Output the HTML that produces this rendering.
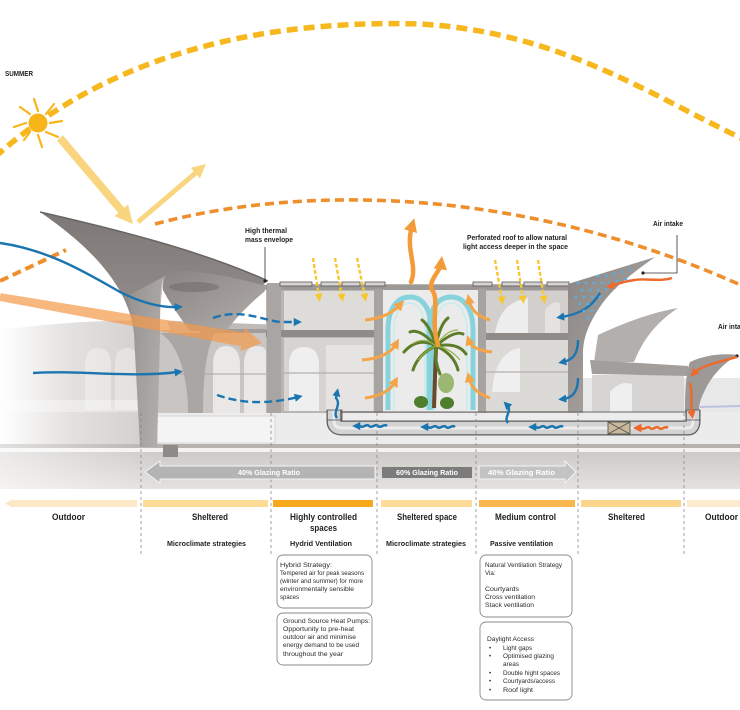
<!DOCTYPE html>
<html><head><meta charset="utf-8">
<style>
html,body{margin:0;padding:0;background:#fff;}
svg{display:block;font-family:"Liberation Sans",Arial,sans-serif;}
</style></head><body>
<svg width="740" height="710" viewBox="0 0 740 710" xmlns="http://www.w3.org/2000/svg">
<defs>
 <linearGradient id="fadeL" gradientUnits="userSpaceOnUse" x1="0" y1="0" x2="230" y2="0">
  <stop offset="0" stop-color="#ffffff"/><stop offset="0.3" stop-color="#e4e2e0"/><stop offset="1" stop-color="#bfbbb8"/>
 </linearGradient>
 <linearGradient id="band" x1="0" y1="0" x2="0" y2="1">
  <stop offset="0" stop-color="#cdcac7"/><stop offset="1" stop-color="#e4e2e0"/>
 </linearGradient>
 <linearGradient id="bandFade" gradientUnits="userSpaceOnUse" x1="0" y1="0" x2="160" y2="0">
  <stop offset="0" stop-color="#ffffff" stop-opacity="0.6"/><stop offset="1" stop-color="#ffffff" stop-opacity="0"/>
 </linearGradient>
 <linearGradient id="fun" x1="0" y1="0" x2="0" y2="1">
  <stop offset="0" stop-color="#7d7875"/><stop offset="1" stop-color="#aeaaa7"/>
 </linearGradient>
 <linearGradient id="fun2" x1="0" y1="0" x2="1" y2="1">
  <stop offset="0" stop-color="#8a8582"/><stop offset="1" stop-color="#b2aeab"/>
 </linearGradient>
 <linearGradient id="stem" x1="0" y1="0" x2="1" y2="0">
  <stop offset="0" stop-color="#9a9693"/><stop offset="1" stop-color="#b9b5b2"/>
 </linearGradient>
 <marker id="mb" viewBox="0 0 10 10" refX="4" refY="5" markerWidth="3.4" markerHeight="3.4" orient="auto"><path d="M0,0 L10,5 L0,10 Z" fill="#1b75b1"/></marker>
 <marker id="mo" viewBox="0 0 10 10" refX="4" refY="5" markerWidth="3.4" markerHeight="3.4" orient="auto"><path d="M0,0 L10,5 L0,10 Z" fill="#f5a448"/></marker>
 <marker id="mo2" viewBox="0 0 10 10" refX="4" refY="5" markerWidth="3" markerHeight="3" orient="auto"><path d="M0,0 L10,5 L0,10 Z" fill="#f29b38"/></marker>
 <marker id="mr" viewBox="0 0 10 10" refX="4" refY="5" markerWidth="3.6" markerHeight="3.6" orient="auto"><path d="M0,0 L10,5 L0,10 Z" fill="#ec6a2c"/></marker>
 <marker id="my" viewBox="0 0 10 10" refX="4" refY="5" markerWidth="3.4" markerHeight="3.4" orient="auto"><path d="M0,0 L10,5 L0,10 Z" fill="#f7c733"/></marker>
</defs>

<!-- SKY ARCS -->
<path d="M-5,157 C 120,45 280,20 420,24 C 560,32 650,95 745,140" fill="none" stroke="#f6b81e" stroke-width="5.5" stroke-dasharray="11 6"/>
<path d="M0,281 L66,250" fill="none" stroke="#ee8f2e" stroke-width="4" stroke-dasharray="9 5"/>
<path d="M155,224 C 300,185 520,185 745,287" fill="none" stroke="#ee8f2e" stroke-width="3.6" stroke-dasharray="9 5"/>

<!-- SUN -->
<g stroke="#f7b519" stroke-width="2.2" stroke-linecap="round">
 <line x1="50" y1="123" x2="62" y2="121"/>
 <line x1="26" y1="123" x2="14" y2="127"/>
 <line x1="38" y1="111" x2="34" y2="99"/>
 <line x1="38" y1="135" x2="42" y2="147"/>
 <line x1="46" y1="114" x2="54" y2="104"/>
 <line x1="30" y1="114" x2="20" y2="107"/>
 <line x1="30" y1="132" x2="24" y2="140"/>
 <line x1="46" y1="132" x2="58" y2="137"/>
</g>
<circle cx="38" cy="123" r="9.5" fill="#f7b519"/>

<!-- BACKGROUND LEFT STRUCTURE (faded) -->
<path d="M0,330 C 60,322 130,318 200,322 L 285,325 L 285,446 L 0,446 Z" fill="url(#fadeL)"/>
<g fill="#ffffff" opacity="0.35">
 <path d="M85,410 L85,365 Q85,348 98,348 Q111,348 111,365 L111,410 Z"/>
 <path d="M115,410 L115,365 Q115,348 127,348 Q139,348 139,365 L139,410 Z"/>
</g>
<rect x="0" y="400" width="160" height="12" fill="#ffffff" opacity="0.35"/>

<!-- RIGHT BACKGROUND -->
<rect x="580" y="378" width="160" height="68" fill="#e8e8e9"/>
<line x1="700" y1="407" x2="740" y2="406" stroke="#b9c3e0" stroke-width="2"/>

<!-- PLATFORM / GROUND -->
<rect x="150" y="412" width="590" height="34" fill="#ececec"/>
<rect x="157" y="416" width="118" height="27" fill="#f4f4f4" stroke="#cfcfcf" stroke-width="0.8"/>
<rect x="0" y="444" width="740" height="4" fill="#b5b2af"/>
<rect x="0" y="448" width="740" height="4" fill="#f4f3f2"/>
<rect x="0" y="452" width="740" height="37" fill="url(#band)"/>
<rect x="0" y="444" width="160" height="45" fill="url(#bandFade)"/>
<rect x="163" y="445" width="15" height="12" fill="#8e8a87"/>
<rect x="140" y="440" width="17" height="7" fill="#8e8a87"/>

<!-- LEFT SHELTERED ZONE -->
<rect x="157" y="330" width="115" height="83" fill="#c9c5c2"/>
<path d="M213,413 L213,365 Q213,346 226,346 Q240,346 240,365 L240,413 Z" fill="#e9e8e7"/>
<path d="M244,413 L244,365 Q244,346 257,346 Q270,346 270,365 L270,413 Z" fill="#e9e8e7"/>
<line x1="180" y1="374" x2="270" y2="374" stroke="#a9a5a2" stroke-width="1"/>
<rect x="200" y="329" width="82" height="4" fill="#a19d9a"/>
<path d="M160,333 C 180,345 188,380 188,413 L 203,413 C 203,385 205,350 215,333 Z" fill="#aaa6a3"/>

<!-- CENTRAL BUILDING -->
<rect x="266" y="284" width="317" height="129" fill="#b9b5b2"/>
<rect x="284" y="291" width="90" height="40" fill="#dedcd9"/>
<rect x="284" y="338" width="90" height="73" fill="#d6d3d0"/>
<path d="M289,411 L289,365 Q289,347 304,347 Q319,347 319,365 L319,411 Z" fill="#efefef"/>
<rect x="326" y="345" width="47" height="66" fill="#e6e4e2"/>
<line x1="284" y1="373" x2="374" y2="373" stroke="#b3afac" stroke-width="1.2"/>
<rect x="383" y="289" width="97" height="123" fill="#ebebeb"/>
<rect x="486" y="291" width="82" height="42" fill="#d2cfcc"/>
<path d="M495,333 Q500,302 528,298 L528,333 Z" fill="#ededed"/>
<path d="M545,333 L545,310 Q552,300 560,303 L560,333 Z" fill="#e4e2e0"/>
<rect x="486" y="340" width="82" height="71" fill="#dcdad7"/>
<path d="M492,392 Q495,352 520,348 L520,392 Z" fill="#efefef"/>
<line x1="486" y1="372" x2="568" y2="372" stroke="#b3afac" stroke-width="1.2"/>
<rect x="266" y="330" width="117" height="7" fill="#8f8b88"/>
<rect x="480" y="333" width="100" height="7" fill="#8f8b88"/>
<rect x="266" y="285" width="317" height="5" fill="#9c9895"/>
<rect x="374" y="289" width="9" height="124" fill="#a7a3a0"/>
<rect x="478" y="289" width="8" height="124" fill="#a7a3a0"/>
<rect x="267" y="283" width="14" height="130" fill="#a9a5a2"/>
<g fill="#d6d4d2" stroke="#555" stroke-width="0.8">
 <rect x="280" y="282" width="32" height="4"/>
 <rect x="321" y="282" width="19" height="4"/>
 <rect x="342" y="282" width="18" height="4"/>
 <rect x="365" y="282" width="20" height="4"/>
 <rect x="473" y="282" width="19" height="4"/>
 <rect x="502" y="282" width="18" height="4"/>
 <rect x="524" y="282" width="18" height="4"/>
 <rect x="547" y="282" width="22" height="4"/>
</g>

<!-- COURTYARD CYAN ARCHES -->
<g fill="none" stroke="#86d3dc" stroke-width="5">
 <path d="M388,410 L388,330 C388,306 399,297 410,297 C421,297 431,306 431,330 L431,410"/>
 <path d="M429,410 L429,330 C429,306 440,297 451,297 C462,297 473,306 473,330 L473,410"/>
</g>
<g fill="none" stroke="#c5ecef" stroke-width="1.5">
 <path d="M394,410 L394,332 C394,312 402,303 410,303 C418,303 425,312 425,332 L425,410"/>
 <path d="M435,410 L435,332 C435,312 443,303 451,303 C459,303 467,312 467,332 L467,410"/>
</g>

<!-- PALM -->
<line x1="434" y1="408" x2="436" y2="346" stroke="#6b4a2a" stroke-width="4"/>
<ellipse cx="446" cy="383" rx="8" ry="10" fill="#7aa040" opacity="0.7"/>
<g fill="none" stroke="#5d7d28" stroke-width="3" stroke-linecap="round">
 <path d="M436,346 Q418,336 404,352"/>
 <path d="M436,346 Q420,328 410,332"/>
 <path d="M436,346 Q430,326 422,320"/>
 <path d="M436,346 Q440,324 448,318"/>
 <path d="M436,346 Q454,330 463,334"/>
 <path d="M436,346 Q458,342 466,354"/>
 <path d="M436,346 Q454,354 458,370"/>
 <path d="M436,346 Q418,354 413,370"/>
 <path d="M436,346 Q434,360 440,374"/>
</g>
<g fill="none" stroke="#9ab24a" stroke-width="1.2">
 <path d="M436,346 Q424,336 412,344"/>
 <path d="M436,346 Q446,330 458,330"/>
 <path d="M436,346 Q450,348 460,360"/>
 <path d="M436,346 Q426,350 418,360"/>
</g>
<ellipse cx="421" cy="402" rx="7" ry="6" fill="#4f7f2c"/>
<ellipse cx="447" cy="403" rx="7" ry="6" fill="#4f7f2c"/>

<!-- SECOND LEFT FUNNEL -->
<path d="M163,271 C 200,268 245,275 268,286 L 264,292 C 250,303 236,318 226,331 L 190,331 C 178,315 168,300 163,290 Z" fill="url(#fun2)"/>
<ellipse cx="194" cy="287" rx="25" ry="5" fill="#6f6a68" opacity="0.55"/>
<path d="M160,300 C 163,310 166,318 170,330 L 160,330 Z" fill="#ffffff" opacity="0.8"/>

<!-- BIG LEFT FUNNEL -->
<path d="M40,212 C 110,228 200,250 268,281 L 262,285 C 230,276 190,268 165,272 C 160,285 160,300 160,333 L 157,447 L 140,447 L 134,333 C 130,300 110,260 40,212 Z" fill="url(#fun)"/>
<path d="M40,212 C 110,228 200,250 268,281" fill="none" stroke="#6a6562" stroke-width="1.5"/>
<path d="M134,333 L140,447 L157,447 L160,333 C160,310 161,292 165,276 L128,296 Z" fill="url(#stem)" opacity="0.7"/>

<!-- RIGHT PAVILION -->
<path d="M568,284 L 655,257 C 630,275 610,290 598,310 C 590,322 584,335 583,350 L 583,412 L 568,412 Z" fill="url(#fun2)"/>
<rect x="592" y="375" width="92" height="37" fill="#d7d5d3"/>
<path d="M610,412 L610,392 Q620,380 632,384 L632,412 Z" fill="#efefef"/>
<path d="M598,335 C 630,320 655,312 678,308 C 660,320 645,335 634,362 L 594,362 Z" fill="#b3afac"/>
<path d="M590,360 L 688,366 L 688,376 L 592,374 Z" fill="#a29e9b"/>
<path d="M690,362 C 705,355 722,353 738,355 C 725,362 712,375 705,390 C 700,400 699,405 699,412 L 685,412 C 685,390 686,372 690,362 Z" fill="#9d9996"/>

<!-- PIPE -->
<line x1="330" y1="412" x2="698" y2="412" stroke="#666" stroke-width="1"/>
<path d="M334,410 L334,421 Q334,428 342,428 L688,428 Q693,428 693,421 L693,410" fill="none" stroke="#5c5c5c" stroke-width="15"/>
<path d="M334,410 L334,421 Q334,428 342,428 L688,428 Q693,428 693,421 L693,410" fill="none" stroke="#d3d3d3" stroke-width="12.5"/>
<path d="M334,410 L334,421 Q334,428 342,428 L688,428 Q693,428 693,421 L693,410" fill="none" stroke="#ececec" stroke-width="3"/>
<rect x="327" y="410" width="15" height="10" fill="none" stroke="#555" stroke-width="0.8"/>
<rect x="686" y="410" width="14" height="10" fill="none" stroke="#555" stroke-width="0.8"/>
<rect x="608" y="422" width="22" height="12" fill="#c9b89a" stroke="#555" stroke-width="0.9"/>
<path d="M608,422 L630,434 M630,422 L608,434" stroke="#555" stroke-width="0.9"/>

<!-- LEADERS -->
<g stroke="#333" stroke-width="0.8" fill="none">
 <line x1="265" y1="247" x2="265" y2="281"/>
 <polyline points="677,235 677,273 643,273"/>
</g>
<circle cx="265" cy="281" r="1.6" fill="#222"/>
<circle cx="643" cy="273" r="1.6" fill="#222"/>
<circle cx="737" cy="356" r="1.6" fill="#222"/>

<!-- SUN RAY ARROWS -->
<polygon points="63,135.4 124.3,207.7 128.1,204.5 133,224 114.5,216.1 118.3,212.9 57,140.6" fill="#f8d57e"/>
<polygon points="139.6,223.9 197,175 199.9,178.4 206,164 190.8,167.8 193.7,171.2 136.4,220.1" fill="#f8d57e"/>

<!-- BIG PALE ORANGE ARROW -->
<polygon points="0.7,293.1 243.5,332.6 244.4,327.7 262,343 240.2,351.3 241.1,346.4 -0.7,300.9" fill="#f39a4a" opacity="0.7"/>

<!-- YELLOW DASHED LIGHT ARROWS -->
<g fill="none" stroke="#f7c733" stroke-width="2.4" stroke-dasharray="4 2" marker-end="url(#my)">
 <path d="M313,258 L319,297"/>
 <path d="M335,258 L342,297"/>
 <path d="M357,258 L365,297"/>
 <path d="M495,260 L502,300"/>
 <path d="M517,260 L523,299"/>
 <path d="M538,260 L544,299"/>
</g>

<!-- ORANGE STACK ARROWS -->
<g fill="none" stroke="#f29b38" stroke-width="4.5" stroke-linecap="round" marker-end="url(#mo2)">
 <path d="M411,282 C 418,265 405,250 412,226"/>
 <path d="M438,345 C 430,320 440,300 432,290 C 428,280 440,272 441,264"/>
</g>
<g fill="none" stroke="#f5a448" stroke-width="3" marker-end="url(#mo)">
 <path d="M365,320 Q 388,318 400,305"/>
 <path d="M362,360 Q 388,358 396,344"/>
 <path d="M365,398 Q 388,395 395,382"/>
 <path d="M490,320 Q 472,315 469,300"/>
 <path d="M492,352 Q 472,350 469,341"/>
 <path d="M490,398 Q 472,392 469,378"/>
</g>

<!-- BLUE ARROWS -->
<g fill="none" stroke="#1b75b1" stroke-width="2.4" marker-end="url(#mb)">
 <path d="M0,243 C 50,250 90,275 120,292 C 140,302 160,308 178,307"/>
 <path d="M33,373 C 80,370 130,378 178,372"/>
 <path d="M213,318 C 240,308 262,320 280,322 L 297,322" stroke-dasharray="8 4"/>
 <path d="M217,395 C 240,403 265,405 298,397" stroke-dasharray="8 4"/>
 <path d="M600,293 C 590,310 575,315 561,317"/>
 <path d="M578,340 C 578,355 572,360 563,362"/>
 <path d="M578,378 C 578,392 572,398 563,399"/>
 <path d="M337,418 C 332,412 342,405 336,398 L 337,393"/>
 <path d="M508,423 C 503,417 513,411 507,405"/>
 <path d="M387,426 c -3,-3 -6,3 -9,0 c -3,-3 -6,3 -9,0 c -3,-3 -6,3 -9,0 l -3,0"/>
 <path d="M455,427 c -3,-3 -6,3 -9,0 c -3,-3 -6,3 -9,0 c -3,-3 -6,3 -9,0 l -3,0"/>
 <path d="M563,427 c -3,-3 -6,3 -9,0 c -3,-3 -6,3 -9,0 c -3,-3 -6,3 -9,0 l -3,0"/>
</g>
<g fill="#5aaee0">
 <circle cx="598" cy="276" r="1.4"/><circle cx="606" cy="276" r="1.4"/><circle cx="614" cy="274" r="1.4"/><circle cx="622" cy="272" r="1.4"/><circle cx="630" cy="270" r="1.4"/>
 <circle cx="578" cy="283" r="1.4"/><circle cx="586" cy="283" r="1.4"/><circle cx="594" cy="283" r="1.4"/><circle cx="602" cy="283" r="1.4"/><circle cx="610" cy="283" r="1.4"/><circle cx="618" cy="281" r="1.4"/><circle cx="626" cy="279" r="1.4"/>
 <circle cx="582" cy="290" r="1.4"/><circle cx="590" cy="290" r="1.4"/><circle cx="598" cy="290" r="1.4"/><circle cx="606" cy="289" r="1.4"/><circle cx="614" cy="288" r="1.4"/>
 <circle cx="576" cy="297" r="1.4"/><circle cx="584" cy="297" r="1.4"/><circle cx="592" cy="297" r="1.4"/><circle cx="600" cy="297" r="1.4"/>
 <circle cx="580" cy="304" r="1.4"/><circle cx="588" cy="304" r="1.4"/><circle cx="596" cy="304" r="1.4"/>
 <circle cx="584" cy="311" r="1.4"/><circle cx="592" cy="311" r="1.4"/><circle cx="588" cy="318" r="1.4"/>
</g>

<!-- ORANGE INTAKE ARROWS -->
<g fill="none" stroke="#ec6a2c" stroke-width="2.4" marker-end="url(#mr)">
 <path d="M672,278 C 660,282 645,278 635,280 C 625,281 617,284 611,286"/>
 <path d="M737,357 C 720,362 702,365 694,373"/>
 <path d="M690,383 C 693,395 690,403 692,414"/>
 <path d="M668,428 c -3,-3 -6,3 -9,0 c -3,-3 -6,3 -9,0 c -3,-3 -6,3 -9,0 l -3,0"/>
</g>

<!-- DASHED VERTICALS -->
<g stroke="#8a8a8a" stroke-width="0.8" stroke-dasharray="3 3">
 <line x1="141" y1="413" x2="141" y2="556"/>
 <line x1="271" y1="413" x2="271" y2="556"/>
 <line x1="377" y1="413" x2="377" y2="556"/>
 <line x1="476" y1="413" x2="476" y2="556"/>
 <line x1="578" y1="413" x2="578" y2="556"/>
 <line x1="684" y1="413" x2="684" y2="556"/>
</g>

<!-- GLAZING -->
<polygon points="145,472 160,461 160,466 375,466 375,479 160,479 160,483" fill="#b4b4b4" stroke="#f4f4f4" stroke-width="1"/>
<rect x="382" y="467" width="90" height="11" fill="#7b7b7b"/>
<polygon points="479,466 565,466 565,461 576,472 565,483 565,479 479,479" fill="#c3c3c3" stroke="#f4f4f4" stroke-width="1"/>
<g fill="#ffffff" font-size="7" font-weight="bold">
 <text x="238" y="475" textLength="62" lengthAdjust="spacingAndGlyphs">40% Glazing Ratio</text>
 <text x="396" y="475" textLength="62" lengthAdjust="spacingAndGlyphs">60% Glazing Ratio</text>
 <text x="488" y="475" textLength="67" lengthAdjust="spacingAndGlyphs">40% Glazing Ratio</text>
</g>

<!-- ZONE BARS -->
<polygon points="5,503.5 13,499 13,500 137,500 137,507 13,507 13,508" fill="#fde8c8"/>
<rect x="143" y="500" width="125" height="7" fill="#fcdb95"/>
<rect x="273" y="500" width="100" height="7" fill="#f6a91b"/>
<rect x="381" y="500" width="91" height="7" fill="#fddc9a"/>
<rect x="479" y="500" width="96" height="7" fill="#f8b64c"/>
<rect x="581" y="500" width="100" height="7" fill="#fcd58c"/>
<rect x="687" y="500" width="53" height="7" fill="#fdebcf"/>

<!-- ZONE LABELS -->
<g fill="#222" font-size="9" font-weight="bold">
 <text x="52" y="520" textLength="33" lengthAdjust="spacingAndGlyphs">Outdoor</text>
 <text x="192" y="520" textLength="36" lengthAdjust="spacingAndGlyphs">Sheltered</text>
 <text x="290" y="520" textLength="67" lengthAdjust="spacingAndGlyphs">Highly controlled</text>
 <text x="310" y="531" textLength="27" lengthAdjust="spacingAndGlyphs">spaces</text>
 <text x="397" y="520" textLength="60" lengthAdjust="spacingAndGlyphs">Sheltered space</text>
 <text x="495" y="520" textLength="61" lengthAdjust="spacingAndGlyphs">Medium control</text>
 <text x="608" y="520" textLength="37" lengthAdjust="spacingAndGlyphs">Sheltered</text>
 <text x="705" y="520" textLength="33" lengthAdjust="spacingAndGlyphs">Outdoor</text>
</g>
<g fill="#222" font-size="7" font-weight="bold">
 <text x="167" y="546" textLength="79" lengthAdjust="spacingAndGlyphs">Microclimate strategies</text>
 <text x="290" y="546" textLength="62" lengthAdjust="spacingAndGlyphs">Hydrid Ventilation</text>
 <text x="386" y="546" textLength="80" lengthAdjust="spacingAndGlyphs">Microclimate strategies</text>
 <text x="490" y="546" textLength="63" lengthAdjust="spacingAndGlyphs">Passive ventilation</text>
</g>

<!-- TOP LABELS -->
<g fill="#222" font-size="7" font-weight="bold">
 <text x="5" y="76" textLength="28" lengthAdjust="spacingAndGlyphs">SUMMER</text>
 <text x="245" y="233" textLength="42" lengthAdjust="spacingAndGlyphs">High thermal</text>
 <text x="245" y="242" textLength="48" lengthAdjust="spacingAndGlyphs">mass envelope</text>
 <text x="467" y="240" textLength="100" lengthAdjust="spacingAndGlyphs">Perforated roof to allow natural</text>
 <text x="463" y="249" textLength="105" lengthAdjust="spacingAndGlyphs">light access deeper in the space</text>
 <text x="653" y="226" textLength="30" lengthAdjust="spacingAndGlyphs">Air intake</text>
 <text x="718" y="329" textLength="30" lengthAdjust="spacingAndGlyphs">Air intake</text>
</g>

<!-- INFO BOXES -->
<g fill="#ffffff" stroke="#8a8a8a" stroke-width="0.9">
 <rect x="277" y="555" width="95" height="53" rx="6"/>
 <rect x="277" y="613" width="95" height="52" rx="6"/>
 <rect x="480" y="555" width="92" height="62" rx="6"/>
 <rect x="480" y="622" width="92" height="78" rx="6"/>
</g>
<g fill="#2a2a2a" font-size="6.2">
 <text x="280" y="567" textLength="52" lengthAdjust="spacingAndGlyphs">Hybrid Strategy:</text>
 <text x="280" y="575" textLength="84" lengthAdjust="spacingAndGlyphs">Tempered air for peak seasons</text>
 <text x="280" y="583" textLength="83" lengthAdjust="spacingAndGlyphs">(winter and summer) for more</text>
 <text x="280" y="591" textLength="74" lengthAdjust="spacingAndGlyphs">environmentally sensible</text>
 <text x="280" y="599" textLength="19" lengthAdjust="spacingAndGlyphs">spaces</text>
 <text x="283" y="623" textLength="87" lengthAdjust="spacingAndGlyphs">Ground Source Heat Pumps:</text>
 <text x="283" y="631" textLength="71" lengthAdjust="spacingAndGlyphs">Opportunity to pre-heat</text>
 <text x="283" y="639" textLength="73" lengthAdjust="spacingAndGlyphs">outdoor air and minimise</text>
 <text x="283" y="647" textLength="76" lengthAdjust="spacingAndGlyphs">energy demand to be used</text>
 <text x="283" y="656" textLength="60" lengthAdjust="spacingAndGlyphs">throughout the year</text>
 <text x="485" y="567" textLength="77" lengthAdjust="spacingAndGlyphs">Natural Ventilation Strategy</text>
 <text x="485" y="575">Via:</text>
 <text x="485" y="591" textLength="34" lengthAdjust="spacingAndGlyphs">Courtyards</text>
 <text x="485" y="599" textLength="50" lengthAdjust="spacingAndGlyphs">Cross ventilation</text>
 <text x="485" y="607" textLength="49" lengthAdjust="spacingAndGlyphs">Stack ventilation</text>
 <text x="487" y="641" textLength="47" lengthAdjust="spacingAndGlyphs">Daylight Access</text>
 <text x="489" y="650">•</text><text x="503" y="650" textLength="29" lengthAdjust="spacingAndGlyphs">Light gaps</text>
 <text x="489" y="658">•</text><text x="503" y="658" textLength="51" lengthAdjust="spacingAndGlyphs">Optimised glazing</text>
 <text x="503" y="666" textLength="16" lengthAdjust="spacingAndGlyphs">areas</text>
 <text x="489" y="675">•</text><text x="503" y="675" textLength="57" lengthAdjust="spacingAndGlyphs">Double hight spaces</text>
 <text x="489" y="683">•</text><text x="503" y="683" textLength="52" lengthAdjust="spacingAndGlyphs">Courtyards/access</text>
 <text x="489" y="692">•</text><text x="503" y="692" textLength="30" lengthAdjust="spacingAndGlyphs">Roof light</text>
</g>
</svg>
</body></html>
